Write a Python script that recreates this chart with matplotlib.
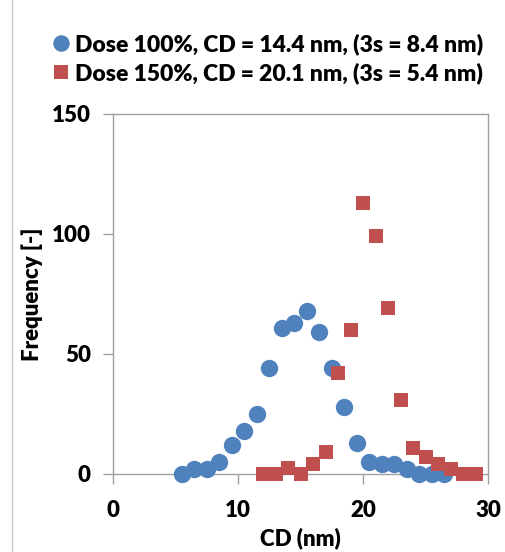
import matplotlib
matplotlib.use("Agg")
import matplotlib.pyplot as plt
from matplotlib.lines import Line2D

plt.rcParams['font.family'] = ['Lato', 'DejaVu Sans']

cd_100 = [5.5, 6.5, 7.5, 8.5, 9.5, 10.5, 11.5, 12.5, 13.5, 14.5, 15.5, 16.5,
          17.5, 18.5, 19.5, 20.5, 21.5, 22.5, 23.5, 24.5, 25.5, 26.5]
freq_100 = [0, 2, 2, 5, 12, 18, 25, 44, 61, 63, 68, 59, 44, 28, 13, 5, 4, 4, 2, 0, 0, 0]

cd_150 = [12, 13, 14, 15, 16, 17, 18, 19, 20, 21, 22, 23, 24, 25, 26, 27, 28, 29]
freq_150 = [0, 0, 2.5, 0, 4, 9, 42, 60, 113, 99, 69, 31, 11, 7, 4, 2, 0, 0]

label_100 = "Dose 100%, CD = 14.4 nm, (3s = 8.4 nm)"
label_150 = "Dose 150%, CD = 20.1 nm, (3s = 5.4 nm)"
x_ticks = [0, 10, 20, 30]
y_ticks = [0, 50, 100, 150]

W, H = 505, 552
fig = plt.figure(figsize=(W / 100, H / 100), dpi=100)
ax = fig.add_axes([113 / W, 1 - 474 / H, 375 / W, 360 / H])

blue = '#4F81BD'
red = '#C0504D'
ax.plot(cd_100, freq_100, 'o', color=blue, markersize=12.5, markeredgewidth=0,
        label=label_100, clip_on=False, zorder=3)
ax.plot(cd_150, freq_150, 's', color=red, markersize=10, markeredgewidth=0,
        label=label_150, clip_on=False, zorder=3)

ax.set_xlim(0, 30)
ax.set_ylim(0, 150)
ax.set_xticks(x_ticks)
ax.set_yticks(y_ticks)
for s in ax.spines.values():
    s.set_color('#A0A0A0')
    s.set_linewidth(1.0)
ax.tick_params(axis='both', direction='out', length=7, width=1.0, color='#A0A0A0',
               labelsize=16, pad=9)
ax.tick_params(axis='x', pad=12)
for t in ax.get_xticklabels() + ax.get_yticklabels():
    t.set_fontweight('heavy')

ax.set_xlabel('CD (nm)', fontsize=16, fontweight='heavy', labelpad=4)
ax.set_ylabel('Frequency [-]', fontsize=16, fontweight='heavy', labelpad=6)

leg = fig.legend(loc='upper left', bbox_to_anchor=(38 / W, 1 - 24 / H),
                 frameon=False, prop={'size': 16.5, 'weight': 'heavy'},
                 handletextpad=0.0, labelspacing=0.3, handlelength=1.2,
                 markerscale=0.95, borderaxespad=0)

fig.add_artist(Line2D([12 / W, 12 / W], [0, 1], color='#C8C8C8', linewidth=1.0))

fig.savefig('out.png', dpi=100)
